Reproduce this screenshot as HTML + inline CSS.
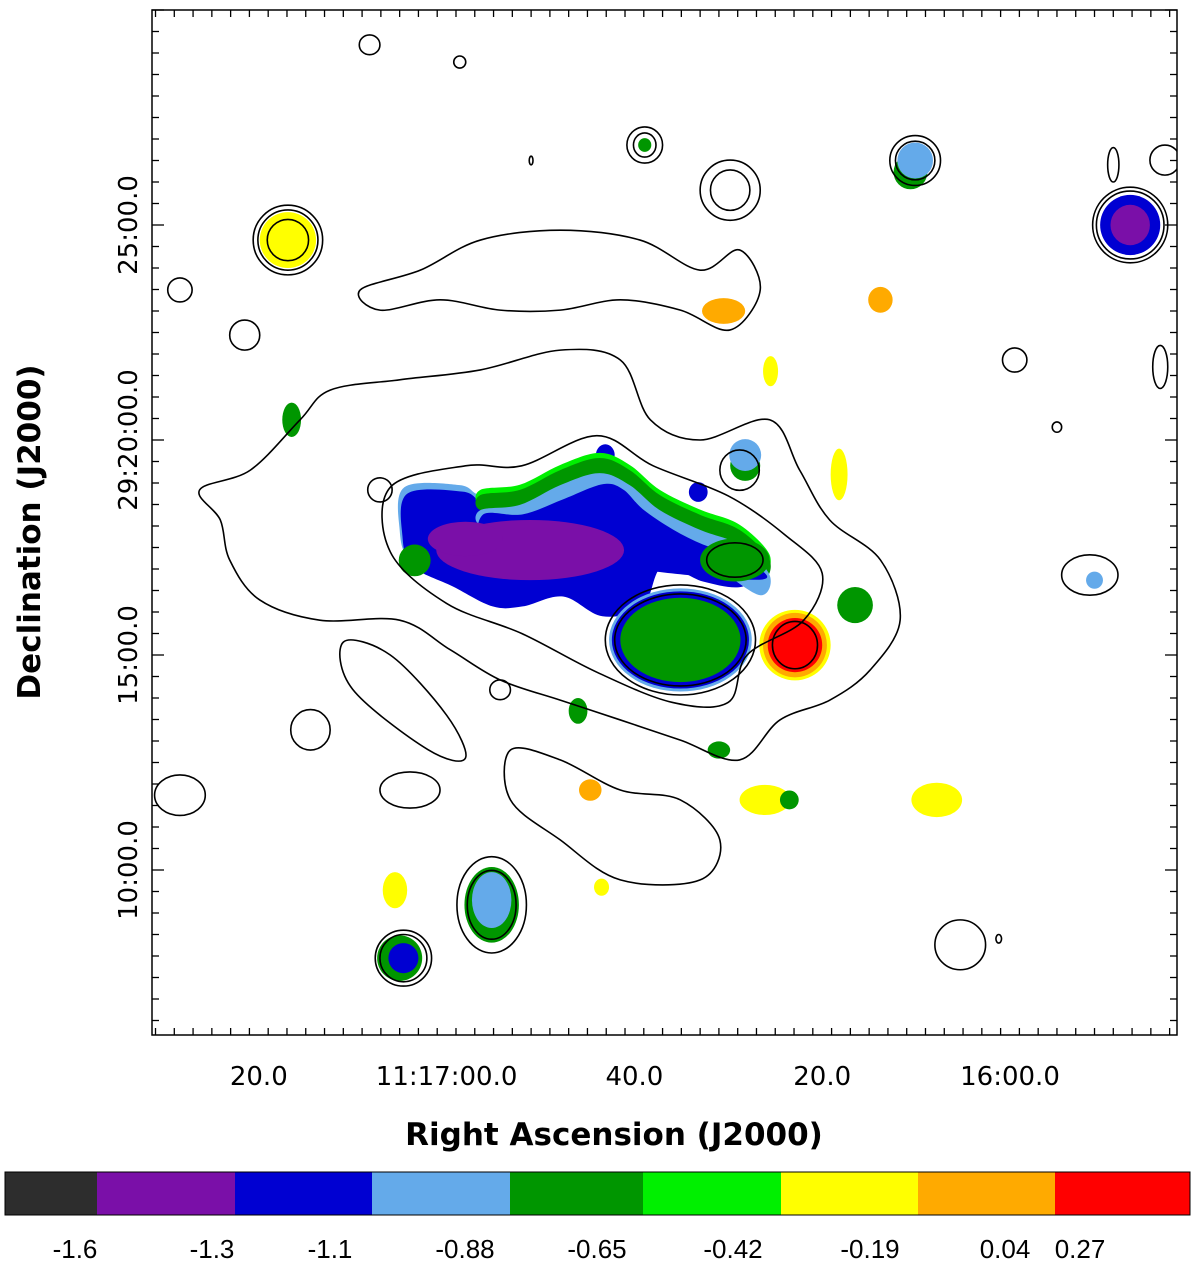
<!DOCTYPE html>
<html><head><meta charset="utf-8"><style>
body{margin:0;background:#fff;width:1200px;height:1274px;overflow:hidden;font-family:"Liberation Sans",sans-serif}
svg{display:block}
</style></head><body>
<svg id="c" width="1200" height="1274" xmlns="http://www.w3.org/2000/svg"></svg>
<script>
// ---- data ----
const palette=["#2d2d2d","#7a0fa8","#0000d2","#64aaea","#009600","#00f000","#ffff00","#ffaa00","#ff0000"];
const cbarLabels=["-1.6","-1.3","-1.1","-0.88","-0.65","-0.42","-0.19","0.04","0.27"];
const xTickLabels=[{s:80,t:"20.0"},{s:60,t:"11:17:00.0"},{s:40,t:"40.0"},{s:20,t:"20.0"},{s:0,t:"16:00.0"}];
const yTickLabels=[{m:25,t:"25:00.0"},{m:20,t:"29:20:00.0"},{m:15,t:"15:00.0"},{m:10,t:"10:00.0"}];
// filled ellipses: [raSec, decMin, rSec, rMin, colorIdx]
const blobs=[
[76.9,24.65,3.0,0.65,6],
[-12.8,25,3.2,0.7,2],[-12.8,25,2.1,0.47,1],
[10.6,26.23,1.8,0.4,4],[10.1,26.5,1.9,0.42,3],
[28.2,19.4,1.6,0.35,4],[28.2,19.65,1.7,0.37,3],
[33.2,18.79,1.0,0.23,2],[43.1,19.65,1.0,0.25,2],
[65.0,7.95,2.4,0.53,4],[64.6,7.95,1.6,0.35,2],
[55.2,9.19,2.9,0.88,4],[55.2,9.3,2.1,0.65,3],
[7.8,11.63,2.7,0.4,6],[65.5,9.53,1.3,0.42,6],
[38.9,26.86,0.7,0.16,4],[13.8,23.26,1.3,0.3,7],
[76.5,20.47,1.0,0.4,4],[-9,16.74,0.9,0.2,3],
[44.7,11.86,1.2,0.25,7],[31.0,12.79,1.2,0.2,4],[26.1,11.63,2.7,0.35,6],[23.5,11.63,1.0,0.22,4],
[16.5,16.16,1.9,0.42,4],[46.0,13.7,1.0,0.3,4],[43.5,9.6,0.8,0.2,6],
[30.5,23.0,2.3,0.3,7],[25.5,21.6,0.8,0.35,6],[18.2,19.2,0.9,0.6,6]
];
// central band polygons [raSec,decMin]
const bandBlue=[[64.5,18.9],[58.6,18.95],[56.4,18.72],[52.2,18.72],[47.9,19.07],[43.7,19.42],[41.5,19.30],[39.4,18.84],[36.2,18.37],[33.0,18.02],[29.8,17.79],[26.6,17.21],[28.8,16.74],[33.0,16.86],[37.3,17.21],[39.4,16.28],[43.7,16.05],[47.9,16.51],[52.2,16.28],[55.4,16.28],[59.6,16.74],[63.9,17.21],[65.0,17.91]];
const bandGreen=[[56.4,18.72],[52.2,18.84],[47.9,19.30],[43.7,19.58],[40.5,19.30],[37.3,18.72],[33.0,18.26],[28.8,17.91],[25.6,17.21],[26.6,16.74],[30.9,17.33],[35.1,17.91],[39.4,18.49],[43.7,18.95],[47.9,18.6],[52.2,18.37],[56.4,18.37]];
const purple=[51.1,17.44,10,0.7];
const core=[[35.1,15.35,7.6,1.2,3],[35.1,15.35,7.3,1.13,2],[35.1,15.35,6.4,0.98,4],[29.3,17.21,3.7,0.5,4],[63.4,17.2,1.7,0.37,4],
[22.9,15.23,3.8,0.82,6],[22.9,15.23,3.4,0.75,7],[22.9,15.23,2.9,0.63,8]];
// contour ellipses
const rings=[[76.9,24.65,3.7,0.81],[76.9,24.65,3.2,0.7],[76.9,24.65,2.2,0.48],[-12.8,25,4.0,0.88],[-12.8,25,3.6,0.79],[10.1,26.5,2.7,0.58],[10.1,26.5,2.1,0.45],
[29.8,25.81,3.2,0.7],[29.8,25.81,2.1,0.47],[38.9,26.86,1.9,0.42],[38.9,26.86,1.2,0.28],[68.2,29.19,1.1,0.23],[58.6,28.79,0.64,0.14],[-16.5,26.51,1.6,0.35],
[35.1,15.35,8.0,1.28],[35.1,15.35,7.0,1.07],[64.6,7.95,3.0,0.65],[64.6,7.95,2.5,0.55],[55.2,9.19,3.7,1.12],[55.2,9.19,2.6,0.8],[5.3,8.26,2.7,0.58],[-0.5,21.86,1.3,0.28],
[-8.5,16.86,3.0,0.47],[74.5,13.26,2.1,0.47],[54.3,14.19,1.1,0.23],[88.4,23.49,1.3,0.28],[81.5,22.44,1.6,0.35],[67.1,18.84,1.3,0.28],
[63.9,11.86,3.2,0.42],[88.4,11.74,2.7,0.47],[28.8,19.3,2.1,0.47],[29.3,17.21,3.0,0.4],[-5,20.3,0.5,0.12],[-16,21.7,0.8,0.5],[51,26.5,0.2,0.1],
[22.9,15.23,2.4,0.55],[1.2,8.4,0.3,0.1],[-11,26.4,0.6,0.4]];
const contourOuter=[[86.3,18.84],[80.9,19.30],[75.6,20.47],[72.4,21.16],[65.0,21.40],[56.4,21.63],[47.9,22.09],[41.5,21.86],[38.3,20.47],[33.0,20.0],[25.6,20.47],[22.4,19.3],[19.2,18.14],[13.8,17.21],[11.7,15.81],[14.9,14.65],[19.2,13.95],[24.5,13.49],[28.8,12.56],[35.1,13.02],[41.5,13.49],[47.9,13.95],[54.3,14.42],[59.6,15.12],[65.0,15.81],[73.5,15.81],[79.9,16.28],[83.1,17.21],[84.1,18.14]];
const contourInner=[[66,18.9],[58,19.4],[52,19.4],[44,20.1],[38,19.4],[30,18.7],[24,17.8],[20,16.9],[22,15.8],[28,15.0],[30,13.9],[36,13.9],[44,14.6],[52,15.5],[60,16.2],[66,17.4]];
const contourLower=[[53.2,12.79],[47.9,12.56],[41.5,11.86],[35.1,11.63],[30.9,10.70],[33.0,9.77],[41.5,9.77],[47.9,10.70],[53.2,11.63]];
const contourTop=[[69.2,23.49],[62.8,23.95],[56.4,24.65],[47.9,24.88],[39.4,24.65],[33.0,23.95],[28.8,24.42],[26.6,23.49],[29.8,22.56],[35.1,23.02],[41.5,23.26],[47.9,23.02],[54.3,23.02],[60.7,23.26],[67.1,23.02]];
const contourLeft=[[70,14.2],[62,12.8],[58,12.6],[60,13.6],[66,15.0],[71,15.3]];

// ---- axes ----
const X0=152,X1=1177,Y0=10,Y1=1035;
const xs=s=>1010-s*9.39, ys=m=>225+(25-m)*43;
const NS="http://www.w3.org/2000/svg", svg=document.getElementById('c');
function mk(tag,attrs,parent){const e=document.createElementNS(NS,tag);for(const k in attrs)e.setAttribute(k,attrs[k]);(parent||svg).appendChild(e);return e;}
const plot=mk('g',{});


mk('defs',{}).innerHTML='<clipPath id="cp"><rect x="152" y="10" width="1025" height="1025"/></clipPath>';
plot.setAttribute('clip-path','url(#cp)');
function ell(d,fill,stroke,name){const e=mk('ellipse',{cx:xs(d[0]),cy:ys(d[1]),rx:d[2]*9.39,ry:d[3]*43,fill:fill,stroke:stroke||'none','stroke-width':1.6},plot);

return e;}
function smooth(pts){const p=pts.map(q=>[xs(q[0]),ys(q[1])]),n=p.length;let d=`M${p[0][0]},${p[0][1]}`;
for(let i=0;i<n;i++){const a=p[(i-1+n)%n],b=p[i],c=p[(i+1)%n],e=p[(i+2)%n];
d+=`C${b[0]+(c[0]-a[0])/6},${b[1]+(c[1]-a[1])/6} ${c[0]-(e[0]-b[0])/6},${c[1]-(e[1]-b[1])/6} ${c[0]},${c[1]}`;}return d+'Z';}
function poly(pts,fill,stroke,name){const e=mk('path',{d:smooth(pts),fill:fill,stroke:stroke||'none','stroke-width':1.6},plot);

}
blobs.forEach(b=>ell(b,palette[b[4]],null,'emission-blob'));
poly(bandBlue,palette[3],null,'band-lightblue-edge');
poly(bandBlue.map(p=>[p[0]-0.3,p[1]-0.15]),palette[2],null,'band-blue');
poly(bandGreen.map(p=>[p[0],p[1]+0.12]),palette[5],null,'band-lightgreen-ridge');
poly(bandGreen,palette[4],null,'band-green-ridge');
poly(bandGreen.map(p=>[p[0],p[1]-0.35]),palette[3],null,'band-lightblue-ridge');
poly(bandBlue.map(p=>[p[0]-0.3,p[1]-0.45]).slice(2,12).concat([[40,17.0],[50,17.4],[56,17.6]]),palette[2],null,'band-blue-inner');
ell(purple.concat([1]),palette[1],null,'band-purple-core');
ell([58,17.7,4,0.4],palette[1],null,'band-purple-core');
core.forEach(b=>ell(b,palette[b[4]],null,'core-blob'));
rings.forEach(r=>ell(r,'none','#000','contour-ring'));
[contourOuter,contourInner,contourLower,contourTop,contourLeft].forEach(c=>poly(c,'none','#000','contour-line'));
// frame
const fr=mk('rect',{x:X0,y:Y0,width:X1-X0,height:Y1-Y0,fill:'none',stroke:'#000','stroke-width':1.5});


// ticks
for(let s=-17;s<=92;s+=2){const x=xs(s);if(x<X0||x>X1)continue;const maj=s%20===0;const L=maj?12:7;
const t1=mk('line',{x1:x,x2:x,y1:Y1,y2:Y1-L,stroke:'#000','stroke-width':1.3});


const t2=mk('line',{x1:x,x2:x,y1:Y0,y2:Y0+L,stroke:'#000','stroke-width':1.3});

}
for(let k=0;k<=50;k++){const m=6+k*0.5;const y=ys(m);if(y<Y0||y>Y1)continue;const maj=k%10===8;const L=maj?12:7;
const t1=mk('line',{x1:X0,x2:X0+L,y1:y,y2:y,stroke:'#000','stroke-width':1.3});


const t2=mk('line',{x1:X1,x2:X1-L,y1:y,y2:y,stroke:'#000','stroke-width':1.3});

}
const TF='"DejaVu Sans","Liberation Sans",sans-serif';
xTickLabels.forEach(l=>{const t=mk('text',{x:xs(l.s),y:1085,'text-anchor':'middle','font-size':26,'font-family':TF});t.textContent=l.t;

});
yTickLabels.forEach(l=>{const y=ys(l.m);const t=mk('text',{x:0,y:0,transform:`translate(137,${y}) rotate(-90)`,'text-anchor':'middle','font-size':26,'font-family':TF});t.textContent=l.t;

});
const xt=mk('text',{x:614,y:1145,'text-anchor':'middle','font-size':31,'font-weight':'bold','font-family':TF});xt.textContent='Right Ascension (J2000)';


const yt=mk('text',{x:0,y:0,transform:'translate(40,532) rotate(-90)','text-anchor':'middle','font-size':31,'font-weight':'bold','font-family':TF});yt.textContent='Declination (J2000)';


// colorbar
const cb=[5,97,235,372,510,643,781,918,1055,1190];
palette.forEach((c,i)=>{const r=mk('rect',{x:cb[i],y:1172,width:cb[i+1]-cb[i],height:43,fill:c});

});
const cbf=mk('rect',{x:5,y:1172,width:1185,height:43,fill:'none',stroke:'#000','stroke-width':1});


const lx=[75,212,330,465,597,733,870,1005,1080];
cbarLabels.forEach((l,i)=>{const t=mk('text',{x:lx[i],y:1258,'text-anchor':'middle','font-size':26});t.textContent=l;

});
</script>
</body></html>
